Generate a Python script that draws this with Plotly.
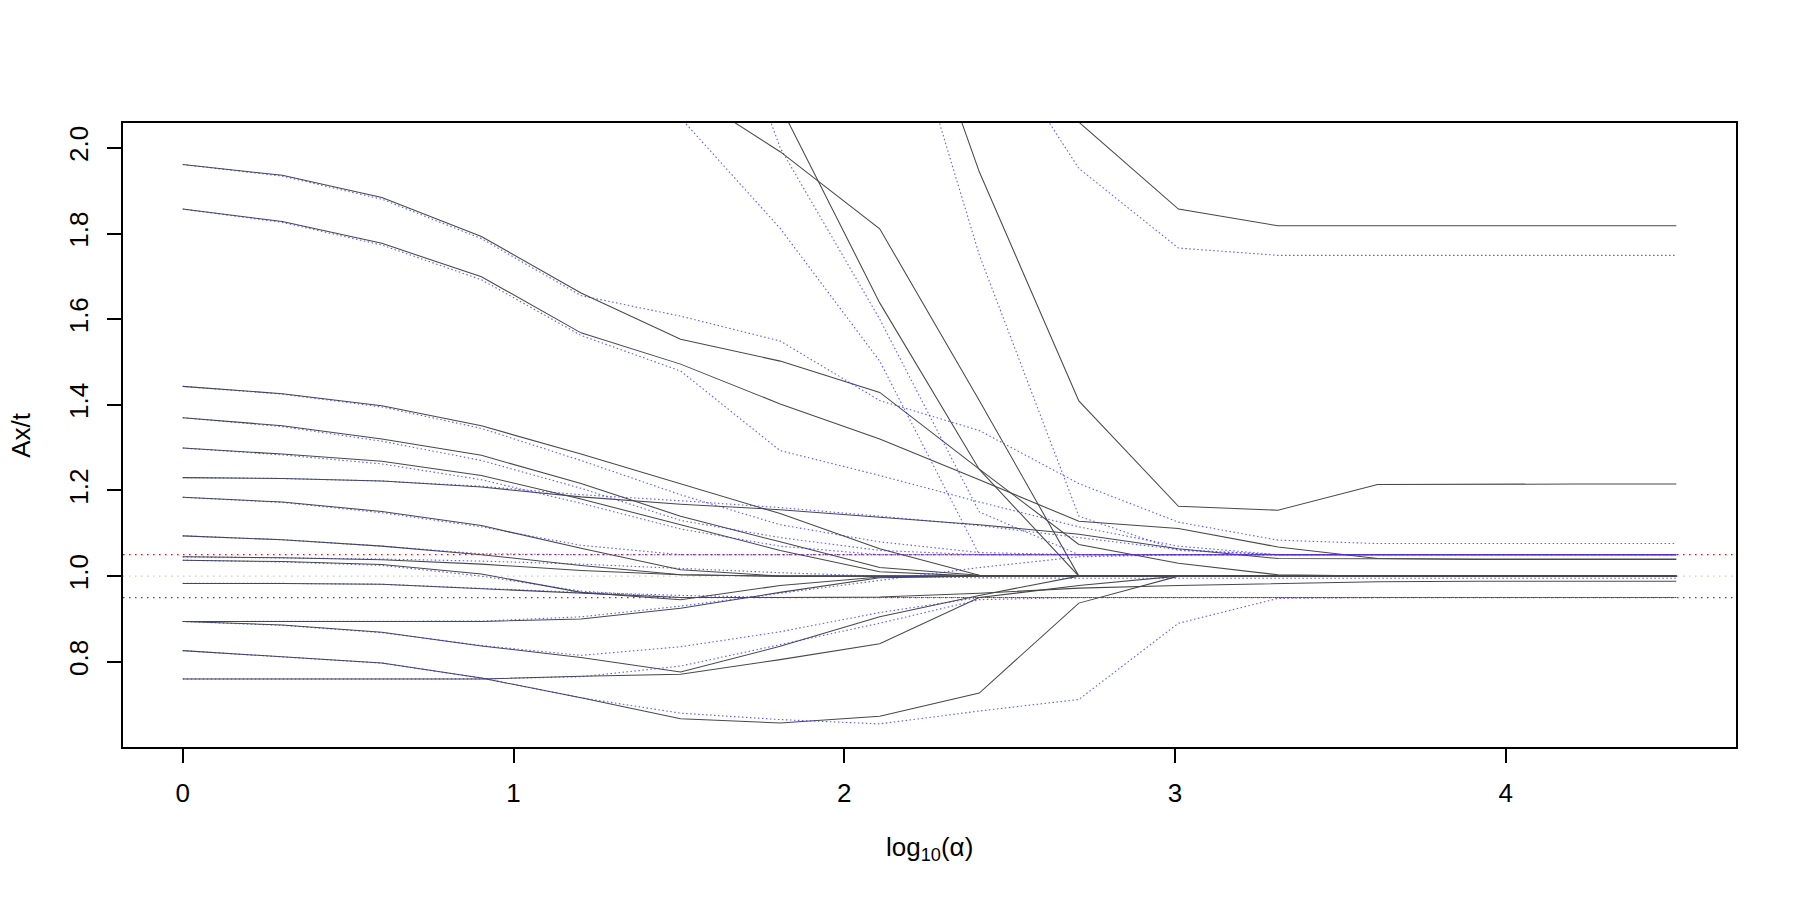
import numpy as np
import plotly.graph_objects as go

# alpha grid (x = log10(alpha))
ALPHA = [1, 2, 4, 8, 16, 32, 64, 128, 256, 512, 1024, 2048, 4096, 8192, 16384, 32768]

# Solid (black) series: Ax/t for each constraint
B01 = [1.961, 1.936, 1.884, 1.793, 1.661, 1.553, 1.502, 1.429, 1.250, 1.074, 1.030, 1.003, 1.000, 1.000, 1.000, 1.000]
B02 = [1.857, 1.828, 1.777, 1.699, 1.568, 1.495, 1.402, 1.320, 1.225, 1.128, 1.111, 1.068, 1.041, 1.039, 1.039, 1.039]
B03 = [1.443, 1.426, 1.398, 1.351, 1.285, 1.216, 1.146, 1.064, 1.002, 1.000, 1.000, 1.000, 1.000, 1.000, 1.000, 1.000]
B04 = [1.370, 1.351, 1.320, 1.282, 1.216, 1.140, 1.080, 1.020, 1.002, 1.000, 1.000, 1.000, 1.000, 1.000, 1.000, 1.000]
B05 = [1.299, 1.285, 1.268, 1.235, 1.180, 1.120, 1.060, 1.010, 1.000, 1.000, 1.000, 1.000, 1.000, 1.000, 1.000, 1.000]
B06 = [1.230, 1.228, 1.222, 1.208, 1.185, 1.168, 1.155, 1.138, 1.120, 1.098, 1.064, 1.041, 1.040, 1.040, 1.040, 1.040]
B07 = [1.184, 1.173, 1.151, 1.118, 1.065, 1.015, 1.000, 1.000, 1.000, 1.000, 1.000, 1.000, 1.000, 1.000, 1.000, 1.000]
B08 = [1.094, 1.085, 1.070, 1.050, 1.025, 1.003, 1.000, 1.000, 1.000, 1.000, 1.000, 1.000, 1.000, 1.000, 1.000, 1.000]
B09 = [1.045, 1.043, 1.038, 1.028, 1.013, 1.003, 1.000, 1.000, 1.000, 1.000, 1.000, 1.000, 1.000, 1.000, 1.000, 1.000]
B10 = [1.037, 1.034, 1.027, 1.005, 0.962, 0.945, 0.978, 0.998, 1.000, 1.000, 1.000, 1.000, 1.000, 1.000, 1.000, 1.000]
B11 = [0.983, 0.983, 0.981, 0.971, 0.960, 0.950, 0.950, 0.951, 0.960, 0.972, 0.978, 0.983, 0.987, 0.988, 0.988, 0.988]
B12 = [0.894, 0.894, 0.894, 0.894, 0.900, 0.925, 0.962, 0.996, 1.000, 1.000, 1.000, 1.000, 1.000, 1.000, 1.000, 1.000]
B13 = [0.894, 0.886, 0.869, 0.837, 0.810, 0.776, 0.836, 0.905, 0.955, 1.000, 1.000, 1.000, 1.000, 1.000, 1.000, 1.000]
B14 = [0.826, 0.812, 0.797, 0.762, 0.716, 0.667, 0.657, 0.673, 0.727, 0.937, 1.000, 1.000, 1.000, 1.000, 1.000, 1.000]
B15 = [0.760, 0.760, 0.760, 0.760, 0.766, 0.771, 0.805, 0.842, 0.950, 0.978, 1.000, 1.000, 1.000, 1.000, 1.000, 1.000]
B16 = [6.500, 5.700, 4.800, 3.800, 2.900, 2.140, 1.991, 1.811, 1.410, 1.000, 1.000, 1.000, 1.000, 1.000, 1.000, 1.000]
B17 = [7.200, 6.400, 5.500, 4.500, 3.500, 2.700, 2.098, 1.638, 1.249, 1.000, 1.000, 1.000, 1.000, 1.000, 1.000, 1.000]
B18 = [9.500, 8.800, 7.900, 6.800, 5.600, 4.400, 3.400, 2.600, 1.944, 1.409, 1.163, 1.154, 1.214, 1.215, 1.215, 1.215]
B19 = [12.00, 11.20, 10.20, 9.000, 7.700, 6.300, 5.000, 3.800, 2.900, 2.060, 1.857, 1.818, 1.818, 1.818, 1.818, 1.818]

# Dotted (blue) series: bounded solution
C01 = [1.961, 1.934, 1.880, 1.788, 1.655, 1.607, 1.549, 1.410, 1.340, 1.216, 1.126, 1.084, 1.076, 1.076, 1.076, 1.076]
C02 = [1.857, 1.826, 1.773, 1.692, 1.562, 1.479, 1.293, 1.235, 1.173, 1.115, 1.070, 1.050, 1.050, 1.050, 1.050, 1.050]
C03 = [1.443, 1.425, 1.395, 1.345, 1.270, 1.190, 1.120, 1.080, 1.055, 1.050, 1.050, 1.050, 1.050, 1.050, 1.050, 1.050]
C04 = [1.370, 1.349, 1.315, 1.270, 1.205, 1.130, 1.090, 1.060, 1.050, 1.050, 1.050, 1.050, 1.050, 1.050, 1.050, 1.050]
C05 = [1.299, 1.283, 1.262, 1.225, 1.170, 1.110, 1.070, 1.050, 1.050, 1.050, 1.050, 1.050, 1.050, 1.050, 1.050, 1.050]
C06 = [1.230, 1.228, 1.222, 1.210, 1.190, 1.176, 1.160, 1.140, 1.118, 1.090, 1.062, 1.050, 1.050, 1.050, 1.050, 1.050]
C07 = [1.184, 1.172, 1.148, 1.115, 1.072, 1.050, 1.050, 1.050, 1.050, 1.050, 1.050, 1.050, 1.050, 1.050, 1.050, 1.050]
C08 = [1.094, 1.085, 1.070, 1.052, 1.050, 1.050, 1.050, 1.050, 1.050, 1.050, 1.050, 1.050, 1.050, 1.050, 1.050, 1.050]
C09 = [1.045, 1.043, 1.040, 1.035, 1.028, 1.018, 1.008, 1.000, 0.996, 0.995, 0.995, 0.995, 0.995, 0.995, 0.995, 0.995]
C10 = [1.037, 1.033, 1.025, 1.000, 0.965, 0.950, 0.950, 0.950, 0.950, 0.950, 0.950, 0.950, 0.950, 0.950, 0.950, 0.950]
C11 = [0.983, 0.983, 0.981, 0.972, 0.962, 0.955, 0.950, 0.950, 0.950, 0.950, 0.950, 0.950, 0.950, 0.950, 0.950, 0.950]
C12 = [0.894, 0.894, 0.894, 0.895, 0.905, 0.930, 0.960, 0.990, 1.020, 1.045, 1.050, 1.050, 1.050, 1.050, 1.050, 1.050]
C13 = [0.894, 0.885, 0.868, 0.838, 0.815, 0.835, 0.870, 0.915, 0.950, 0.950, 0.950, 0.950, 0.950, 0.950, 0.950, 0.950]
C14 = [0.826, 0.812, 0.797, 0.762, 0.716, 0.680, 0.665, 0.655, 0.685, 0.712, 0.890, 0.948, 0.950, 0.950, 0.950, 0.950]
C15 = [0.760, 0.760, 0.760, 0.760, 0.765, 0.790, 0.840, 0.890, 0.945, 0.950, 0.950, 0.950, 0.950, 0.950, 0.950, 0.950]
C16 = [5.500, 4.800, 4.000, 3.300, 2.700, 2.070, 1.812, 1.502, 1.050, 1.050, 1.050, 1.050, 1.050, 1.050, 1.050, 1.050]
C17 = [6.800, 6.000, 5.100, 4.200, 3.400, 2.640, 2.000, 1.600, 1.150, 1.050, 1.050, 1.050, 1.050, 1.050, 1.050, 1.050]
C18 = [8.000, 7.300, 6.500, 5.600, 4.600, 3.700, 3.000, 2.520, 1.750, 1.140, 1.060, 1.050, 1.050, 1.050, 1.050, 1.050]
C19 = [10.50, 9.800, 8.900, 7.900, 6.800, 5.600, 4.400, 3.300, 2.310, 1.952, 1.766, 1.749, 1.749, 1.749, 1.749, 1.749]

BAND = [0.95, 1.05]   # tolerance band (red dotted)
TARGET = 1.0          # target (light dotted)

X_TICKS = [0, 1, 2, 3, 4]
Y_TICKS = [0.8, 1.0, 1.2, 1.4, 1.6, 1.8, 2.0]

BLACK = [B01, B02, B03, B04, B05, B06, B07, B08, B09, B10, B11, B12, B13, B14, B15, B16, B17, B18, B19]
BLUE = [C01, C02, C03, C04, C05, C06, C07, C08, C09, C10, C11, C12, C13, C14, C15, C16, C17, C18, C19]

x = np.log10(ALPHA)

fig = go.Figure()
for s in BLACK:
    fig.add_trace(go.Scatter(x=x, y=s, mode="lines",
                             line=dict(color="#484848", width=1.05),
                             showlegend=False, hoverinfo="skip"))
for s in BLUE:
    fig.add_trace(go.Scatter(x=x, y=s, mode="lines",
                             line=dict(color="rgba(50,50,255,0.8)", width=1.1, dash="1.5px,2.5px"),
                             showlegend=False, hoverinfo="skip"))

shapes = []
for b in BAND:
    shapes.append(dict(type="line", xref="x domain", yref="y", x0=0, x1=1, y0=b, y1=b,
                       line=dict(color="red", width=1.3, dash="1.5px,4.5px"), layer="above"))
shapes.append(dict(type="line", xref="x domain", yref="y", x0=0, x1=1, y0=TARGET, y1=TARGET,
                   line=dict(color="rgba(200,195,180,0.9)", width=1.3, dash="1.5px,4.5px"), layer="below"))

xmin, xmax = float(x[0]), float(x[-1])
dx = (xmax - xmin) * 0.04

fig.update_layout(
    width=1800, height=900,
    margin=dict(l=123, r=64, t=123, b=153),
    plot_bgcolor="white", paper_bgcolor="white",
    font=dict(family="Liberation Sans, Arial, sans-serif", size=26, color="black"),
    shapes=shapes,
    xaxis=dict(range=[xmin - dx, xmax + dx], tickvals=X_TICKS, ticktext=[str(v) for v in X_TICKS],
               ticks="outside", ticklen=14, tickwidth=1.5, tickcolor="black",
               tickfont=dict(size=26),
               showline=True, mirror=True, linecolor="black", linewidth=1.5,
               showgrid=False, zeroline=False, ticklabelstandoff=8),
    yaxis=dict(range=[0.601, 2.058], tickvals=Y_TICKS, tickformat=".1f", tickangle=-90,
               ticks="outside", ticklen=14, tickwidth=1.5, tickcolor="black",
               tickfont=dict(size=26),
               showline=True, mirror=True, linecolor="black", linewidth=1.5,
               showgrid=False, zeroline=False, ticklabelstandoff=9),
    annotations=[
        dict(text="log<sub>10</sub>(α)", xref="paper", yref="paper", x=0.5, y=-0.162,
             xanchor="center", yanchor="middle", showarrow=False, font=dict(size=26)),
        dict(text="Ax/t", xref="paper", yref="paper", x=-0.0634, y=0.5, textangle=-90,
             xanchor="center", yanchor="middle", showarrow=False, font=dict(size=26)),
    ],
)

fig.write_html("out.html")
